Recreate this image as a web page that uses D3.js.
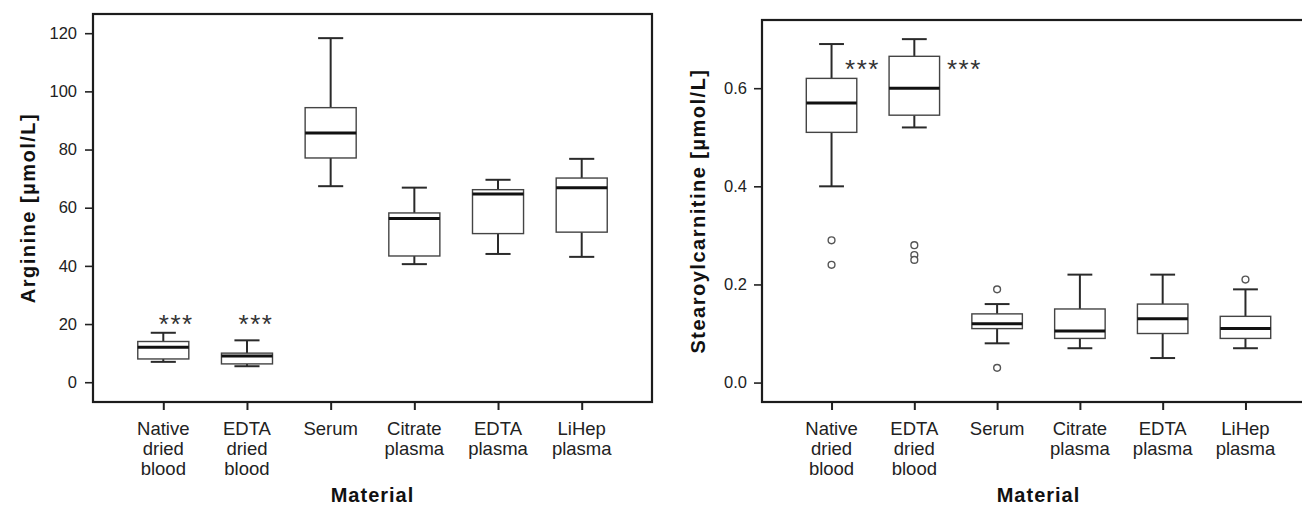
<!DOCTYPE html>
<html>
<head>
<meta charset="utf-8">
<script src="https://cdn.jsdelivr.net/npm/d3@7/dist/d3.min.js"></script>
<style>
  html, body { margin: 0; padding: 0; background: #fff; }
  svg { display: block; font-family: "Liberation Sans", Arial, Helvetica, sans-serif; }
</style>
</head>
<body>
<svg id="chart" width="1302" height="507"></svg>
<script>
// ---------- data ----------
const categories = ["Native dried blood", "EDTA dried blood", "Serum", "Citrate plasma", "EDTA plasma", "LiHep plasma"];
const categoryLabels = [["Native", "dried", "blood"], ["EDTA", "dried", "blood"], ["Serum"], ["Citrate", "plasma"], ["EDTA", "plasma"], ["LiHep", "plasma"]];

// Arginine [µmol/L]
const arginineMin    = [7.0, 5.5, 67.4, 40.6, 44.1, 43.1];
const arginineQ1     = [8.0, 6.3, 77.1, 43.4, 51.1, 51.6];
const arginineMedian = [12.0, 9.0, 85.7, 56.3, 64.7, 66.9];
const arginineQ3     = [14.0, 10.0, 94.4, 58.2, 66.2, 70.2];
const arginineMax    = [17.0, 14.4, 118.3, 66.9, 69.6, 76.8];
const arginineOutliers = [[], [], [], [], [], []];
const arginineTicks = [0, 20, 40, 60, 80, 100, 120];
const arginineSignif = [{cat: 0, value: 22, label: "***"}, {cat: 1, value: 22, label: "***"}];

// Stearoylcarnitine [µmol/L]
const stearoylMin    = [0.40, 0.52, 0.08, 0.07, 0.05, 0.07];
const stearoylQ1     = [0.51, 0.545, 0.11, 0.09, 0.10, 0.09];
const stearoylMedian = [0.57, 0.60, 0.12, 0.105, 0.13, 0.11];
const stearoylQ3     = [0.62, 0.665, 0.14, 0.15, 0.16, 0.135];
const stearoylMax    = [0.69, 0.70, 0.16, 0.22, 0.22, 0.19];
const stearoylOutliers = [[0.29, 0.24], [0.28, 0.26, 0.25], [0.19, 0.03], [], [], [0.21]];
const stearoylTicks = [0.0, 0.2, 0.4, 0.6];
const stearoylSignif = [{cat: 0, value: 0.651, label: "***"}, {cat: 1, value: 0.651, label: "***"}];

// ---------- layout ----------
const svg = d3.select("#chart");
svg.append("rect").attr("width", 1302).attr("height", 507).attr("fill", "#fff");

function panel(cfg) {
  const g = svg.append("g");
  const x = d3.scalePoint().domain(categories).range([cfg.left, cfg.right]).padding(0.84);
  const y = d3.scaleLinear().domain(cfg.domain).range([cfg.bottom, cfg.top]);
  const step = x.step();
  const boxW = step * 0.61, capW = step * 0.3;

  const rows = categories.map((c, i) => ({
    c, i, min: cfg.min[i], q1: cfg.q1[i], med: cfg.med[i], q3: cfg.q3[i], max: cfg.max[i], out: cfg.out[i]
  }));

  // y axis
  const yAxis = d3.axisLeft(y).tickValues(cfg.ticks).tickSize(8).tickPadding(cfg.tickPad).tickFormat(cfg.fmt);
  const ya = g.append("g").attr("transform", `translate(${cfg.left},0)`).call(yAxis);
  ya.select(".domain").remove();
  ya.selectAll(".tick line").attr("stroke", "#222").attr("stroke-width", 1.6);
  ya.selectAll(".tick text").attr("font-size", 16.5).attr("fill", "#222").attr("font-family", "Liberation Sans, Arial, sans-serif");

  // x axis
  const xAxis = d3.axisBottom(x).tickSize(8).tickFormat("");
  const xa = g.append("g").attr("transform", `translate(0,${cfg.bottom})`).call(xAxis);
  xa.select(".domain").remove();
  xa.selectAll(".tick line").attr("stroke", "#222").attr("stroke-width", 2);

  // category labels
  const lab = g.append("g");
  rows.forEach(r => {
    const t = lab.append("text").attr("x", x(r.c)).attr("y", 435)
      .attr("text-anchor", "middle").attr("font-size", 18.5).attr("fill", "#222");
    categoryLabels[r.i].forEach((line, k) => {
      t.append("tspan").attr("x", x(r.c)).attr("dy", k === 0 ? 0 : 20).text(line);
    });
  });

  // frame
  g.append("rect").attr("x", cfg.left).attr("y", cfg.top)
    .attr("width", cfg.right - cfg.left).attr("height", cfg.bottom - cfg.top)
    .attr("fill", "none").attr("stroke", "#1c1c1c").attr("stroke-width", 2.2);

  // boxes
  const b = g.append("g");
  rows.forEach(r => {
    const cx = x(r.c);
    // whiskers
    b.append("line").attr("x1", cx).attr("x2", cx).attr("y1", y(r.q3)).attr("y2", y(r.max))
      .attr("stroke", "#2a2a2a").attr("stroke-width", 2);
    b.append("line").attr("x1", cx).attr("x2", cx).attr("y1", y(r.q1)).attr("y2", y(r.min))
      .attr("stroke", "#2a2a2a").attr("stroke-width", 2);
    b.append("line").attr("x1", cx - capW / 2).attr("x2", cx + capW / 2).attr("y1", y(r.max)).attr("y2", y(r.max))
      .attr("stroke", "#2a2a2a").attr("stroke-width", 2);
    b.append("line").attr("x1", cx - capW / 2).attr("x2", cx + capW / 2).attr("y1", y(r.min)).attr("y2", y(r.min))
      .attr("stroke", "#2a2a2a").attr("stroke-width", 2);
    // box
    b.append("rect").attr("x", cx - boxW / 2).attr("y", y(r.q3))
      .attr("width", boxW).attr("height", y(r.q1) - y(r.q3))
      .attr("fill", "#fff").attr("stroke", "#444").attr("stroke-width", 1.4);
    // median
    b.append("line").attr("x1", cx - boxW / 2).attr("x2", cx + boxW / 2).attr("y1", y(r.med)).attr("y2", y(r.med))
      .attr("stroke", "#111").attr("stroke-width", 3);
    // outliers
    r.out.forEach(v => {
      b.append("circle").attr("cx", cx).attr("cy", y(v)).attr("r", 3.4)
        .attr("fill", "#fff").attr("stroke", "#555").attr("stroke-width", 1.4);
    });
  });

  // significance
  cfg.signif.forEach((s, k) => {
    g.append("text").attr("x", x(categories[s.cat]) + cfg.starDx[k]).attr("y", y(s.value))
      .attr("dy", "0.57em").attr("text-anchor", "middle")
      .attr("font-size", 26).attr("letter-spacing", 1.5).attr("fill", "#333").text(s.label);
  });

  // titles
  g.append("text").attr("transform", `translate(${cfg.ytX},${(cfg.top + cfg.bottom) / 2}) rotate(-90)`)
    .attr("text-anchor", "middle").attr("font-size", 20).attr("font-weight", "bold")
    .attr("letter-spacing", 1.5).attr("fill", "#111").text(cfg.yTitle);
  g.append("text").attr("x", (cfg.left + cfg.right) / 2).attr("y", 502)
    .attr("text-anchor", "middle").attr("font-size", 20).attr("font-weight", "bold")
    .attr("letter-spacing", 1).attr("fill", "#111").text("Material");
}

panel({
  left: 93, right: 652, top: 14, bottom: 402, domain: [-6.8, 126.6],
  min: arginineMin, q1: arginineQ1, med: arginineMedian, q3: arginineQ3, max: arginineMax, out: arginineOutliers,
  ticks: arginineTicks, fmt: d3.format("d"), tickPad: 8,
  signif: arginineSignif, starDx: [13, 9],
  yTitle: "Arginine [µmol/L]", ytX: 35
});

panel({
  left: 762, right: 1315, top: 20, bottom: 402, domain: [-0.0396, 0.739],
  min: stearoylMin, q1: stearoylQ1, med: stearoylMedian, q3: stearoylQ3, max: stearoylMax, out: stearoylOutliers,
  ticks: stearoylTicks, fmt: d3.format(".1f"), tickPad: 7,
  signif: stearoylSignif, starDx: [31, 50],
  yTitle: "Stearoylcarnitine [µmol/L]", ytX: 705
});
</script>
</body>
</html>
